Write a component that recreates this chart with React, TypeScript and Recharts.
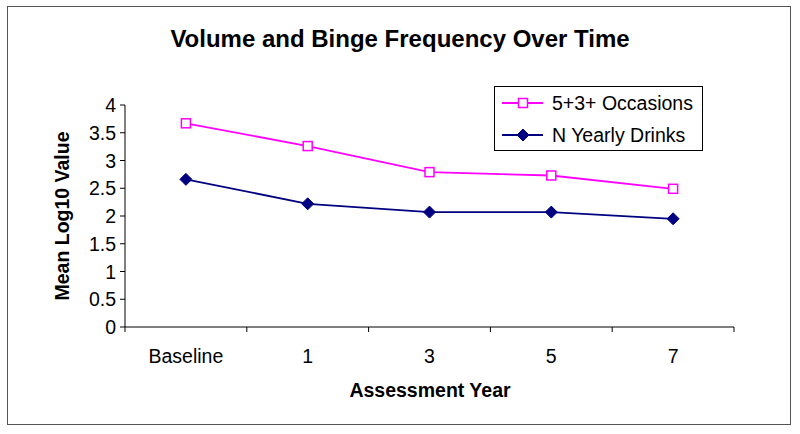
import { LineChart, Line, XAxis, YAxis, Legend } from 'recharts';

const categories = ['Baseline', '1', '3', '5', '7'];
const occasions = [3.67, 3.26, 2.79, 2.73, 2.49];
const yearlyDrinks = [2.66, 2.22, 2.07, 2.07, 1.95];
const yTicks = [0, 0.5, 1, 1.5, 2, 2.5, 3, 3.5, 4];

const data = categories.map((name, i) => ({
  name,
  occasions: occasions[i],
  drinks: yearlyDrinks[i],
}));

const PINK = '#FF00FF';
const NAVY = '#000080';
const FONT = '"Liberation Sans", Arial, sans-serif';
const TEXT_SIZE = 19.5;
const HALF_BAND = 60.9;

const SquareDot = (props: any) => {
  const { cx, cy } = props;
  if (cx == null || cy == null) return null;
  return (
    <rect x={cx - 4.5} y={cy - 4.5} width={9} height={9} fill='#fff' stroke={PINK} strokeWidth={1.5} />
  );
};

const DiamondDot = (props: any) => {
  const { cx, cy } = props;
  if (cx == null || cy == null) return null;
  const r = 6;
  return (
    <polygon
      points={`${cx},${cy - r} ${cx + r},${cy} ${cx},${cy + r} ${cx - r},${cy}`}
      fill={NAVY}
      stroke={NAVY}
    />
  );
};

// Excel-style category axis: tick marks on band edges, labels in the middle
const XTick = (props: any) => {
  const { x, y, payload, index } = props;
  const last = index === categories.length - 1;
  return (
    <g>
      <line x1={x - HALF_BAND} y1={y} x2={x - HALF_BAND} y2={y + 5} stroke='#000' />
      {last && <line x1={x + HALF_BAND} y1={y} x2={x + HALF_BAND} y2={y + 5} stroke='#000' />}
      <text
        x={x}
        y={y + 29}
        textAnchor='middle'
        dominantBaseline='central'
        fontSize={TEXT_SIZE}
        fontFamily={FONT}
        fill='#000'
      >
        {payload.value}
      </text>
    </g>
  );
};

const YTick = (props: any) => {
  const { x, y, payload } = props;
  return (
    <text
      x={x}
      y={y}
      textAnchor='end'
      dominantBaseline='central'
      fontSize={TEXT_SIZE}
      fontFamily={FONT}
      fill='#000'
    >
      {payload.value}
    </text>
  );
};

const LegendBox = () => {
  const rows = [
    { label: '5+3+ Occasions', color: PINK, Dot: SquareDot },
    { label: 'N Yearly Drinks', color: NAVY, Dot: DiamondDot },
  ];
  return (
    <svg width={209} height={65} style={{ display: 'block' }}>
      <rect x={0.5} y={0.5} width={208} height={64} fill='#fff' stroke='#000' />
      {rows.map((r, i) => {
        const cy = 17 + i * 32;
        return (
          <g key={r.label}>
            <line x1={8} y1={cy} x2={49} y2={cy} stroke={r.color} strokeWidth={1.8} />
            <r.Dot cx={29} cy={cy} />
            <text
              x={58}
              y={cy}
              dominantBaseline='central'
              fontSize={TEXT_SIZE}
              fontFamily={FONT}
              fill='#000'
            >
              {r.label}
            </text>
          </g>
        );
      })}
    </svg>
  );
};

export default function App() {
  return (
    <div style={{ position: 'absolute', left: 0, top: 0, width: 800, height: 434, background: '#fff', fontFamily: FONT }}>
      <div
        style={{
          position: 'absolute',
          left: 7,
          top: 6,
          width: 782,
          height: 417,
          border: '1.5px solid #555',
        }}
      />
      <div
        style={{
          position: 'absolute',
          left: 0,
          top: 25,
          width: 800,
          textAlign: 'center',
          fontSize: 24,
          fontWeight: 'bold',
          whiteSpace: 'nowrap',
        }}
      >
        Volume and Binge Frequency Over Time
      </div>
      <div
        style={{
          position: 'absolute',
          left: 0,
          top: 379,
          width: 860,
          textAlign: 'center',
          fontSize: TEXT_SIZE,
          fontWeight: 'bold',
          whiteSpace: 'nowrap',
        }}
      >
        Assessment Year
      </div>
      <div
        style={{
          position: 'absolute',
          left: 62,
          top: 216,
          transform: 'translate(-50%, -50%) rotate(-90deg)',
          fontSize: TEXT_SIZE,
          fontWeight: 'bold',
          whiteSpace: 'nowrap',
        }}
      >
        Mean Log10 Value
      </div>
      <div style={{ position: 'absolute', left: 0, top: 0 }}>
        <LineChart width={800} height={434} data={data} margin={{ top: 105, right: 66, left: 65, bottom: 67 }}>
          <XAxis
            dataKey='name'
            scale='point'
            padding={{ left: HALF_BAND, right: HALF_BAND }}
            height={40}
            tickLine={false}
            tickSize={0}
            tickMargin={0}
            axisLine={{ stroke: '#000' }}
            tick={<XTick />}
            interval={0}
          />
          <YAxis
            domain={[0, 4]}
            ticks={yTicks}
            width={60}
            tickSize={5}
            tickMargin={4}
            axisLine={{ stroke: '#000' }}
            tickLine={{ stroke: '#000' }}
            tick={<YTick />}
            interval={0}
          />
          <Legend
            layout='horizontal'
            verticalAlign='middle'
            align='center'
            content={<LegendBox />}
            wrapperStyle={{ left: 494, top: 86, width: 209, height: 65 }}
          />
          <Line
            name='5+3+ Occasions'
            dataKey='occasions'
            stroke={PINK}
            strokeWidth={1.8}
            dot={<SquareDot />}
            isAnimationActive={false}
          />
          <Line
            name='N Yearly Drinks'
            dataKey='drinks'
            stroke={NAVY}
            strokeWidth={1.8}
            dot={<DiamondDot />}
            isAnimationActive={false}
          />
        </LineChart>
      </div>
    </div>
  );
}
